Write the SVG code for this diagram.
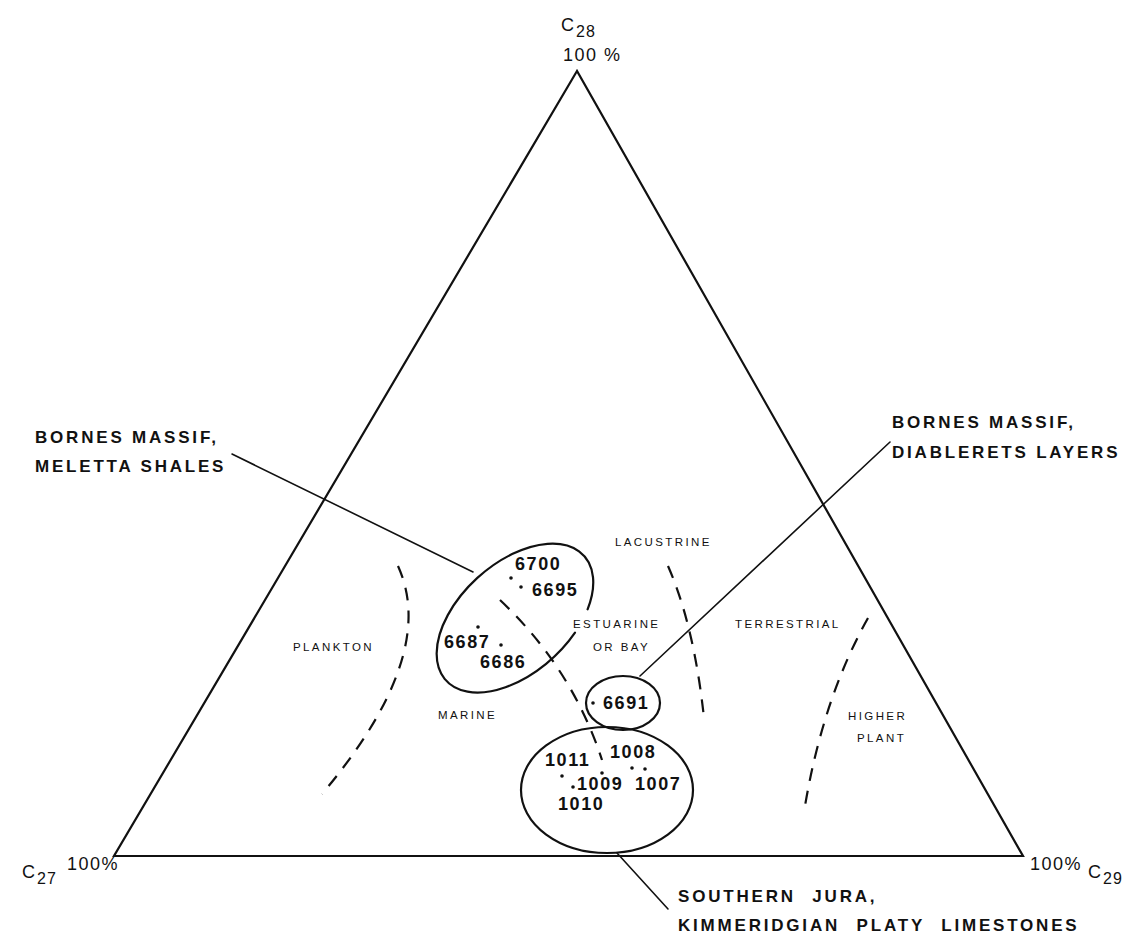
<svg xmlns="http://www.w3.org/2000/svg" width="1134" height="947" viewBox="0 0 1134 947">
<style>
  .ln{fill:none;stroke:#111;stroke-width:2.2;stroke-linecap:round}
  .ld{fill:none;stroke:#111;stroke-width:1.6;stroke-linecap:round}
  .ds{fill:none;stroke:#111;stroke-width:2.2;stroke-dasharray:13 10}
  .big{font-family:"Liberation Sans",Arial,sans-serif;font-weight:bold;font-size:17px;letter-spacing:2.8px;fill:#111}
  .num{font-family:"Liberation Sans",Arial,sans-serif;font-weight:bold;font-size:18px;letter-spacing:1.6px;fill:#111}
  .sm{font-family:"Liberation Sans",Arial,sans-serif;font-size:11.5px;letter-spacing:2.4px;fill:#111}
  .ax{font-family:"Liberation Sans",Arial,sans-serif;font-size:18px;letter-spacing:1.5px;fill:#111}
  .sub{font-family:"Liberation Sans",Arial,sans-serif;font-size:16px;letter-spacing:1px;fill:#111}
  .dot{fill:#111}
</style>
<rect width="1134" height="947" fill="#fff"/>
<g id="triangle">
  <polygon points="577,71 114,856 1023,856" class="ln" stroke-linejoin="miter"/>
</g>
<g id="corner-labels">
  <text class="ax" x="561" y="31" font-size="19">C</text><text class="sub" x="576" y="37">28</text>
  <text class="ax" x="563" y="61">100 %</text>
  <text class="ax" x="22" y="878">C</text><text class="sub" x="37" y="884">27</text>
  <text class="ax" x="67" y="870">100%</text>
  <text class="ax" x="1030" y="870">100%</text>
  <text class="ax" x="1088" y="878">C</text><text class="sub" x="1103" y="884">29</text>
</g>
<g id="boundaries">
  <path class="ds" d="M398,566 C418,610 418,680 322,794"/>
  <path class="ds" d="M500,600 Q572,668 602,760"/>
  <path class="ds" d="M668,566 Q694,625 704,718"/>
  <path class="ds" d="M868,618 Q822,700 804,812"/>
</g>
<g id="region-labels">
  <text class="sm" x="293" y="651">PLANKTON</text>
  <text class="sm" x="438" y="719">MARINE</text>
  <text class="sm" x="615" y="546">LACUSTRINE</text>
  <text class="sm" x="573" y="628">ESTUARINE</text>
  <text class="sm" x="593" y="651">OR BAY</text>
  <text class="sm" x="735" y="628">TERRESTRIAL</text>
  <text class="sm" x="848" y="720">HIGHER</text>
  <text class="sm" x="857" y="742">PLANT</text>
</g>
<g id="connectors">
  <line class="ld" x1="232" y1="454" x2="473" y2="572"/>
  <line class="ld" x1="890" y1="442" x2="640" y2="676"/>
  <line class="ld" x1="617" y1="853" x2="668" y2="909"/>
</g>
<g id="meletta-shales">
  <path class="ln" d="M575,632.6 A93,55 -42 1,1 587.6,609.3"/>
  <text class="num" x="515" y="570">6700</text>
  <circle class="dot" cx="511" cy="578" r="1.8"/>
  <circle class="dot" cx="521" cy="587" r="1.8"/>
  <text class="num" x="532" y="596">6695</text>
  <circle class="dot" cx="478" cy="627" r="1.8"/>
  <text class="num" x="444" y="648">6687</text>
  <circle class="dot" cx="501" cy="645" r="1.8"/>
  <text class="num" x="480" y="668">6686</text>
</g>
<g id="diablerets-layers">
  <ellipse class="ln" cx="623" cy="703" rx="37" ry="27"/>
  <circle class="dot" cx="593" cy="703" r="1.8"/>
  <text class="num" x="603" y="709">6691</text>
</g>
<g id="southern-jura">
  <ellipse class="ln" cx="607" cy="790" rx="86" ry="63"/>
  <text class="num" x="610" y="758">1008</text>
  <text class="num" x="545" y="766">1011</text>
  <circle class="dot" cx="562" cy="776" r="1.8"/>
  <circle class="dot" cx="573" cy="787" r="1.8"/>
  <text class="num" x="577" y="790">1009</text>
  <circle class="dot" cx="602" cy="773" r="1.8"/>
  <circle class="dot" cx="632" cy="768" r="1.8"/>
  <circle class="dot" cx="645" cy="769" r="1.8"/>
  <text class="num" x="635" y="790">1007</text>
  <text class="num" x="558" y="810">1010</text>
</g>
<g id="callout-meletta">
  <text class="big" x="35" y="443">BORNES MASSIF,</text>
  <text class="big" x="35" y="472">MELETTA SHALES</text>
</g>
<g id="callout-diablerets">
  <text class="big" x="892" y="428">BORNES MASSIF,</text>
  <text class="big" x="892" y="458">DIABLERETS LAYERS</text>
</g>
<g id="callout-jura">
  <text class="big" x="678" y="902" letter-spacing="3.6" word-spacing="9">SOUTHERN JURA,</text>
  <text class="big" x="678" y="931" letter-spacing="3.6" word-spacing="9">KIMMERIDGIAN PLATY LIMESTONES</text>
</g>
</svg>
